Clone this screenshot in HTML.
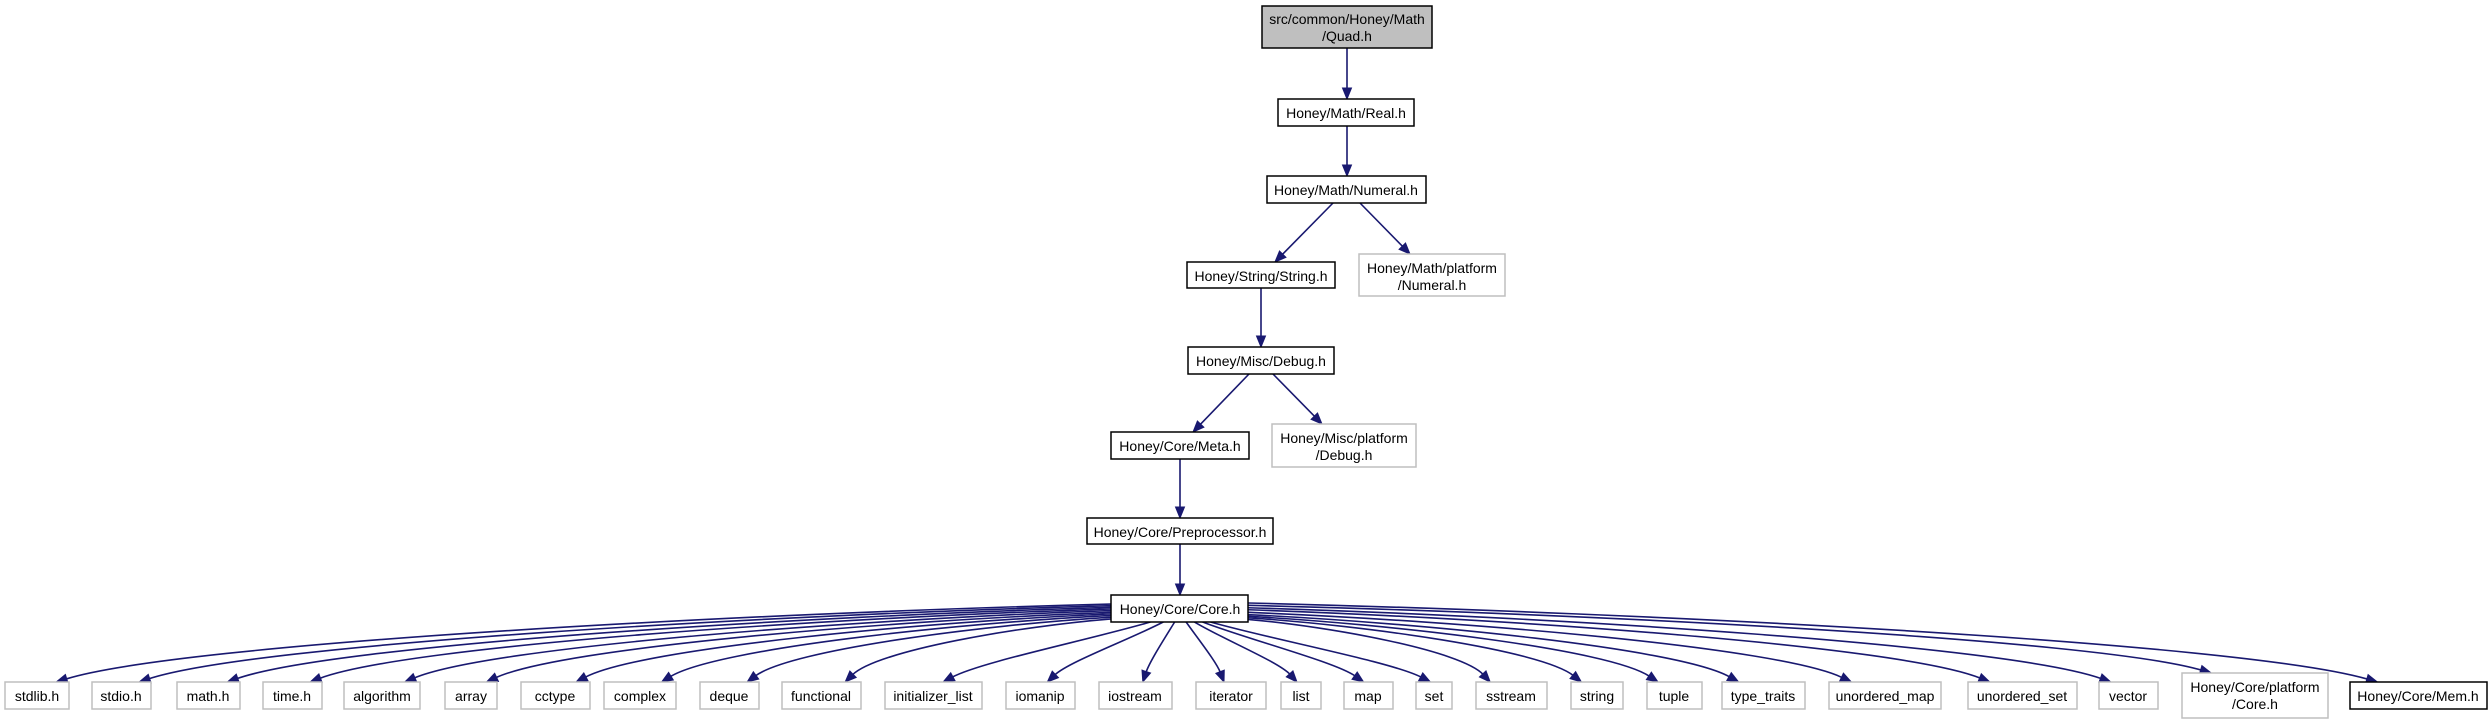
<!DOCTYPE html>
<html><head><meta charset="utf-8"><style>
html,body{margin:0;padding:0;background:#fff}
svg{display:block}
text{font-family:"Liberation Sans",Arial,sans-serif;font-size:14px;fill:#000;text-anchor:middle}
</style></head><body>
<svg id="s" width="2492" height="723" viewBox="0 0 2492 723" xmlns="http://www.w3.org/2000/svg">
<g id="edges" stroke="#191970" stroke-width="1.6" fill="none"></g>
<g id="heads" fill="#191970" stroke="#191970"></g>
<g stroke-width="1.5">
<rect x="1262" y="6" width="170" height="42" fill="#bfbfbf" stroke="#000"/>
<text x="1347" y="24">src/common/Honey/Math</text><text x="1347" y="41">/Quad.h</text>
<rect x="1278" y="99" width="136" height="27" fill="#fff" stroke="#000"/>
<text x="1346" y="118">Honey/Math/Real.h</text>
<rect x="1267" y="176" width="159" height="27" fill="#fff" stroke="#000"/>
<text x="1346" y="195">Honey/Math/Numeral.h</text>
<rect x="1187" y="262" width="148" height="26" fill="#fff" stroke="#000"/>
<text x="1261" y="281">Honey/String/String.h</text>
<rect x="1359" y="254" width="146" height="42" fill="#fff" stroke="#bfbfbf"/>
<text x="1432" y="273">Honey/Math/platform</text><text x="1432" y="290">/Numeral.h</text>
<rect x="1188" y="347" width="146" height="27" fill="#fff" stroke="#000"/>
<text x="1261" y="366">Honey/Misc/Debug.h</text>
<rect x="1111" y="432" width="138" height="27" fill="#fff" stroke="#000"/>
<text x="1180" y="451">Honey/Core/Meta.h</text>
<rect x="1272" y="424" width="144" height="43" fill="#fff" stroke="#bfbfbf"/>
<text x="1344" y="443">Honey/Misc/platform</text><text x="1344" y="460">/Debug.h</text>
<rect x="1087" y="518" width="186" height="26" fill="#fff" stroke="#000"/>
<text x="1180" y="537">Honey/Core/Preprocessor.h</text>
<rect x="1111" y="595" width="137" height="27" fill="#fff" stroke="#000"/>
<text x="1180" y="614">Honey/Core/Core.h</text>
</g>
<g id="bottom" stroke-width="1.5"></g>
<g id="btext">
<text x="37" y="701">stdlib.h</text>
<text x="121" y="701">stdio.h</text>
<text x="208" y="701">math.h</text>
<text x="292" y="701">time.h</text>
<text x="382" y="701">algorithm</text>
<text x="471" y="701">array</text>
<text x="555" y="701">cctype</text>
<text x="640" y="701">complex</text>
<text x="729" y="701">deque</text>
<text x="821" y="701">functional</text>
<text x="933" y="701">initializer_list</text>
<text x="1040" y="701">iomanip</text>
<text x="1135" y="701">iostream</text>
<text x="1231" y="701">iterator</text>
<text x="1301" y="701">list</text>
<text x="1368" y="701">map</text>
<text x="1434" y="701">set</text>
<text x="1511" y="701">sstream</text>
<text x="1597" y="701">string</text>
<text x="1674" y="701">tuple</text>
<text x="1763" y="701">type_traits</text>
<text x="1885" y="701">unordered_map</text>
<text x="2022" y="701">unordered_set</text>
<text x="2128" y="701">vector</text>
<text x="2255" y="692">Honey/Core/platform</text><text x="2255" y="709">/Core.h</text>
<text x="2418" y="701">Honey/Core/Mem.h</text>
</g>
</svg>
<script>
var NS="http://www.w3.org/2000/svg";
var E=document.getElementById("edges"),H=document.getElementById("heads"),B=document.getElementById("bottom");
function path(d){var p=document.createElementNS(NS,"path");p.setAttribute("d",d);E.appendChild(p);}
function head(px,py,tx,ty){var dx=tx-px,dy=ty-py,l=Math.hypot(dx,dy);dx/=l;dy/=l;var L=11,W=4.5;
var bx=tx-dx*L,by=ty-dy*L;var p=document.createElementNS(NS,"polygon");
p.setAttribute("points",tx+","+ty+" "+(bx-dy*W)+","+(by+dx*W)+" "+(bx+dy*W)+","+(by-dx*W));H.appendChild(p);}
function line(x1,y1,x2,y2){var dx=x2-x1,dy=y2-y1,l=Math.hypot(dx,dy);var ex=x2-dx/l*10,ey=y2-dy/l*10;
path("M"+x1+","+y1+"L"+ex+","+ey);head(x1,y1,x2,y2);}
line(1347,48,1347,99);
line(1347,126,1347,176);
line(1333,203,1275,262);
line(1360,203,1410,254);
line(1261,288,1261,347);
line(1249,374,1193,432);
line(1273,374,1322,424);
line(1180,459,1180,518);
line(1180,544,1180,595);
var bx=[[5,69],[92,151],[177,240],[263,322],[344,420],[445,497],[521,590],[604,676],[700,759],[782,861],[885,982],[1006,1075],[1099,1172],[1196,1266],[1281,1321],[1344,1393],[1416,1452],[1476,1547],[1571,1623],[1647,1702],[1722,1805],[1829,1941],[1968,2077],[2099,2158],[2182,2328,1],[2350,2487,2]];
bx.forEach(function(b,i){
 var r=document.createElementNS(NS,"rect");
 var tall=b[2]==1, top=tall?673:682, h=tall?45:27;
 r.setAttribute("x",b[0]);r.setAttribute("y",top);r.setAttribute("width",b[1]-b[0]);r.setAttribute("height",h);
 r.setAttribute("fill","#fff");r.setAttribute("stroke",b[2]==2?"#000":"#bfbfbf");B.appendChild(r);
 var cx=(b[0]+b[1])/2, w=b[1]-b[0], ty=top;
 var d=cx-1180, sx, sy, c1x,c1y,c2x,c2y, tx;
 if(Math.abs(d)<300){sx=1180+d*0.12;sy=622;tx=cx-Math.sign(d)*w*0.1;
   c1x=sx+d*0.25;c1y=640;c2x=tx-d*0.15;c2y=ty-20;
 } else {
   tx=cx-Math.sign(d)*w*0.3;
   sx=d<0?1111:1248; var k=Math.min(1,(Math.abs(d)-300)/900); sy=620-k*17;
   var D=tx-sx;
   c1x=sx+D*0.35;c1y=sy+(ty-sy)*0.12;c2x=tx-D*0.12;c2y=ty-(ty-sy)*0.5;
 }
 var dx=tx-c2x,dy=ty-c2y,l=Math.hypot(dx,dy);var ex2=tx-dx/l*10,ey2=ty-dy/l*10;
 path("M"+sx+","+sy+"C"+c1x+","+c1y+" "+c2x+","+c2y+" "+ex2+","+ey2);
 head(c2x,c2y,tx,ty);
});
</script>
</body></html>
